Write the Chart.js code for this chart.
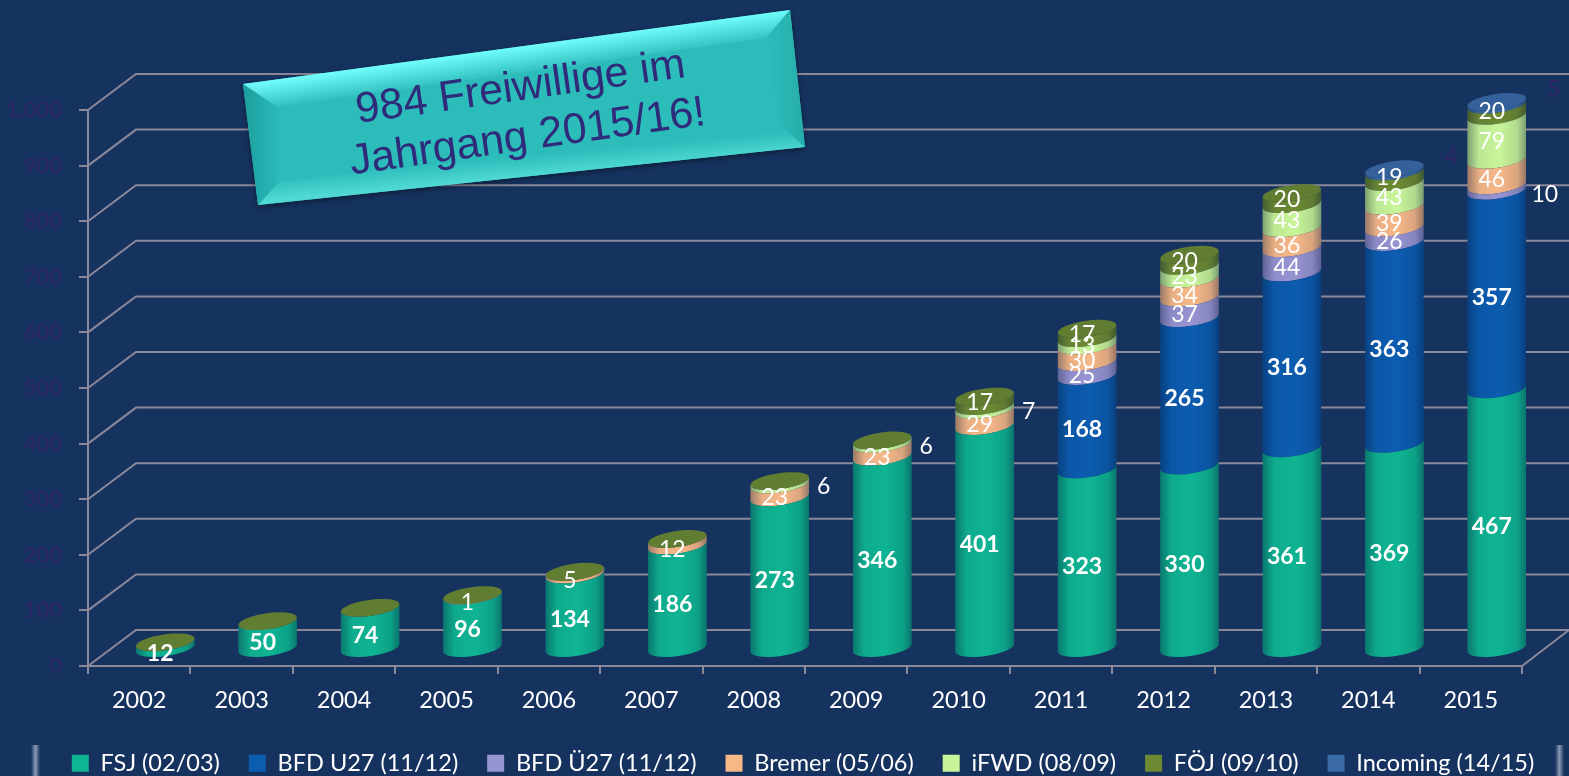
<!DOCTYPE html>
<html lang="de">
<head>
<meta charset="utf-8">
<title>Freiwillige</title>
<script src="https://cdn.jsdelivr.net/npm/chart.js@4"></script>
<style>
    html, body { margin: 0; padding: 0; background: #163360; overflow: hidden; }
    canvas { display: block; }
</style>
</head>
<body>
<canvas id="freiwilligeChart" width="1569" height="776"></canvas>
<script>
// Daten
const jahre = ['2002', '2003', '2004', '2005', '2006', '2007', '2008', '2009', '2010', '2011', '2012', '2013', '2014', '2015'];
const fsj      = [12, 50, 74, 96, 134, 186, 273, 346, 401, 323, 330, 361, 369, 467];
const bfdU27   = [null, null, null, null, null, null, null, null, null, 168, 265, 316, 363, 357];
const bfdUe27  = [null, null, null, null, null, null, null, null, null, 25, 37, 44, 26, 10];
const bremer   = [null, null, null, 1, 5, 12, 23, 23, 29, 30, 34, 36, 39, 46];
const ifwd     = [null, null, null, null, null, null, 6, 6, 7, 13, 23, 43, 43, 79];
const foej     = [0, 0, 0, 0, 0, 0, 0, 0, 17, 17, 20, 20, 19, 20];
const incoming = [null, null, null, null, null, null, null, null, null, null, null, null, 4, 5];
const yTicks   = [0, 100, 200, 300, 400, 500, 600, 700, 800, 900, 1000];

const GRAU = '#8b8899';
const TIEFE_X = 48, TIEFE_Y = 36;   // Rueckwand
const BAR_DX = 26, BAR_DY = -17;    // Saeulen stehen mitten auf dem Boden
const NEIGUNG = -8 * Math.PI / 180;
const RY = 8;

// Saeulen als Zylinder zeichnen
Chart.BarElement.prototype.draw = function (ctx) {
    const { x, y, base, width } = this.getProps(['x', 'y', 'base', 'width']);
    if (isNaN(y) || isNaN(base)) return;
    const rx = width / 2;

    ctx.save();
    ctx.beginPath();
    ctx.ellipse(x, base, rx, RY, NEIGUNG, Math.PI, 0, true);
    ctx.ellipse(x, y, rx, RY, NEIGUNG, 0, Math.PI, false);
    ctx.closePath();
    ctx.fillStyle = this.options.backgroundColor;
    ctx.fill();

    const schatten = ctx.createLinearGradient(x - rx, 0, x + rx, 0);
    schatten.addColorStop(0, 'rgba(0,20,50,0.38)');
    schatten.addColorStop(0.2, 'rgba(0,20,50,0.06)');
    schatten.addColorStop(0.55, 'rgba(0,20,50,0)');
    schatten.addColorStop(0.85, 'rgba(0,20,50,0.12)');
    schatten.addColorStop(1, 'rgba(0,20,50,0.4)');
    ctx.fillStyle = schatten;
    ctx.fill();
    ctx.restore();
};

function serie(label, data, farbe) {
    return { label: label, data: data, backgroundColor: farbe, borderWidth: 0, clip: false };
}

// Beschriftung der Segmente
const labelStil = [
    { font: 'bold 23px Lato', dy: 8 },
    { font: 'bold 23px Lato', dy: 7 },
    { font: '23px Lato', dy: 7 },
    { font: '23px Lato', dy: 7 },
    { font: '23px Lato', dy: 4 },
    { font: '23px Lato', dy: 1 },
    { font: '23px Lato', dy: -14 }
];

function seitlich(ds, wert) {
    if (ds === 6) return 57;                 // Incoming
    if (ds === 4 && wert < 10) return 44;    // iFWD klein
    if (ds === 2 && wert <= 10) return 48;   // BFD Ue27 klein
    return 0;
}

function streifen(ctx, x) {
    const g = ctx.createLinearGradient(x, 0, x + 9, 0);
    g.addColorStop(0, 'rgba(200,210,225,0)');
    g.addColorStop(0.5, 'rgba(200,210,225,0.65)');
    g.addColorStop(1, 'rgba(200,210,225,0)');
    ctx.fillStyle = g;
    ctx.fillRect(x, 745, 9, 31);
}

const saeulenPlugin = {
    id: 'saeulen',
    afterLayout(chart) {
        // Legende sitzt im Original etwas weiter rechts und unten
        chart.legend.left += 42;
        chart.legend.right += 42;
        chart.legend.top += 9;
        chart.legend.bottom += 9;
    },
    beforeDatasetsDraw(chart) {
        const { ctx, chartArea, scales } = chart;
        ctx.save();
        ctx.strokeStyle = GRAU;
        ctx.lineWidth = 2;
        yTicks.forEach(t => {
            const py = scales.y.getPixelForValue(t);
            ctx.beginPath();
            ctx.moveTo(chartArea.left, py);
            ctx.lineTo(chartArea.left + TIEFE_X, py - TIEFE_Y);
            ctx.lineTo(chart.width, py - TIEFE_Y);
            ctx.stroke();
        });
        ctx.beginPath();
        ctx.moveTo(chartArea.right, chartArea.bottom);
        ctx.lineTo(chart.width, chartArea.bottom - TIEFE_Y);
        ctx.stroke();
        ctx.restore();

        ctx.save();
        ctx.translate(BAR_DX, BAR_DY);
    },
    afterDatasetsDraw(chart) {
        const { ctx } = chart;
        const metas = chart.data.datasets.map((d, ds) => chart.getDatasetMeta(ds));

        // Deckel nur auf dem obersten Segment jeder Saeule
        jahre.forEach((jahr, i) => {
            for (let ds = metas.length - 1; ds >= 0; ds--) {
                if (chart.data.datasets[ds].data[i] === null) continue;
                const bar = metas[ds].data[i];
                ctx.beginPath();
                ctx.ellipse(bar.x, bar.y, bar.width / 2, RY, NEIGUNG, 0, Math.PI * 2);
                ctx.fillStyle = bar.options.backgroundColor;
                ctx.fill();
                ctx.fillStyle = 'rgba(0,20,50,0.1)';
                ctx.fill();
                break;
            }
        });

        ctx.textAlign = 'center';
        ctx.textBaseline = 'middle';
        chart.data.datasets.forEach((dataset, ds) => {
            metas[ds].data.forEach((bar, i) => {
                const wert = dataset.data[i];
                if (!wert) return;
                const rechts = seitlich(ds, wert);
                ctx.font = labelStil[ds].font;
                ctx.fillStyle = ds === 6 ? '#2f2668' : '#ffffff';
                ctx.fillText(String(wert), bar.x + (rechts || -5), (bar.y + bar.base) / 2 + labelStil[ds].dy);
            });
        });
        ctx.restore();
    },
    afterDraw(chart) {
        zeichneSchild(chart.ctx);
        // helle Streifen unten
        streifen(chart.ctx, 31);
        streifen(chart.ctx, 1555);
    }
};

// Schild "984 Freiwillige"
function zeichneSchild(ctx) {
    const a = [243, 84], b = [790, 10], c = [805, 147], d = [258, 205];
    const ia = [277, 107], ib = [766, 38], ic = [780, 125], id = [279, 182];
    const FLAECHE = '#2cbcba';

    function flaeche(punkte, fill) {
        ctx.beginPath();
        punkte.forEach((p, i) => i ? ctx.lineTo(p[0], p[1]) : ctx.moveTo(p[0], p[1]));
        ctx.closePath();
        ctx.fillStyle = fill;
        ctx.fill();
    }

    ctx.save();
    ctx.shadowColor = 'rgba(0,0,0,0.45)';
    ctx.shadowBlur = 6;
    ctx.shadowOffsetY = 2;
    flaeche([a, b, c, d], FLAECHE);
    ctx.restore();

    const oben = ctx.createLinearGradient(514, 47, 518, 76);
    oben.addColorStop(0, '#72fdfd');
    oben.addColorStop(1, FLAECHE);
    flaeche([a, b, ib, ia], oben);
    const unten = ctx.createLinearGradient(532, 176, 530, 154);
    unten.addColorStop(0, '#4fd8d4');
    unten.addColorStop(1, FLAECHE);
    flaeche([d, c, ic, id], unten);
    const links = ctx.createLinearGradient(245, 0, 280, 0);
    links.addColorStop(0, '#1d9f9f');
    links.addColorStop(1, FLAECHE);
    flaeche([a, ia, id, d], links);
    const rechts = ctx.createLinearGradient(766, 0, 805, 0);
    rechts.addColorStop(0, FLAECHE);
    rechts.addColorStop(1, '#27adab');
    flaeche([b, c, ic, ib], rechts);

    ctx.save();
    ctx.translate(524, 112);
    ctx.rotate(-8 * Math.PI / 180);
    ctx.fillStyle = '#2f2a7a';
    ctx.font = '43px "Liberation Sans"';
    ctx.textAlign = 'center';
    ctx.textBaseline = 'middle';
    ctx.fillText('984 Freiwillige im', 0, -24);
    ctx.fillText('Jahrgang 2015/16!', 0, 26);
    ctx.restore();
}

function inicializarGrafico() {
    const ctx = document.getElementById('freiwilligeChart').getContext('2d');
    new Chart(ctx, {
        type: 'bar',
        data: {
            labels: jahre,
            datasets: [
                serie('FSJ (02/03)', fsj, '#0fb493'),
                serie('BFD U27 (11/12)', bfdU27, '#0c5cb0'),
                serie('BFD Ü27 (11/12)', bfdUe27, '#9794d2'),
                serie('Bremer (05/06)', bremer, '#f7b888'),
                serie('iFWD (08/09)', ifwd, '#c9f59a'),
                serie('FÖJ (09/10)', foej, '#6d8a33'),
                serie('Incoming (14/15)', incoming, '#3a6aa5')
            ]
        },
        options: {
            responsive: false,
            animation: false,
            events: [],
            layout: { padding: { left: 0, right: 47, top: 110, bottom: 0 } },
            datasets: { bar: { categoryPercentage: 1, barPercentage: 0.576 } },
            scales: {
                x: {
                    stacked: true,
                    afterFit: scale => { scale.height = 110 - scale.chart.legend.height; },
                    border: { color: GRAU, width: 2 },
                    grid: { color: GRAU, lineWidth: 2, drawOnChartArea: false, tickLength: 8 },
                    ticks: { color: '#ffffff', font: { family: 'Lato', size: 23.5 }, padding: 12, maxRotation: 0 }
                },
                y: {
                    stacked: true,
                    min: 0,
                    max: 1000,
                    afterFit: scale => { scale.width = 88; },
                    afterBuildTicks: scale => { scale.ticks = yTicks.map(v => ({ value: v })); },
                    border: { color: GRAU, width: 2 },
                    grid: { color: GRAU, lineWidth: 2, drawOnChartArea: false, tickLength: 9 },
                    ticks: { color: '#2f2668', font: { family: 'Lato', size: 22 }, padding: 17 }
                }
            },
            plugins: {
                tooltip: { enabled: false },
                legend: {
                    position: 'bottom',
                    labels: {
                        color: '#ffffff',
                        font: { family: 'Lato', size: 23.5 },
                        boxWidth: 17,
                        boxHeight: 17,
                        padding: 29
                    }
                }
            }
        },
        plugins: [saeulenPlugin]
    });
}

document.addEventListener('DOMContentLoaded', () => {
    inicializarGrafico();
});
</script>
</body>
</html>
